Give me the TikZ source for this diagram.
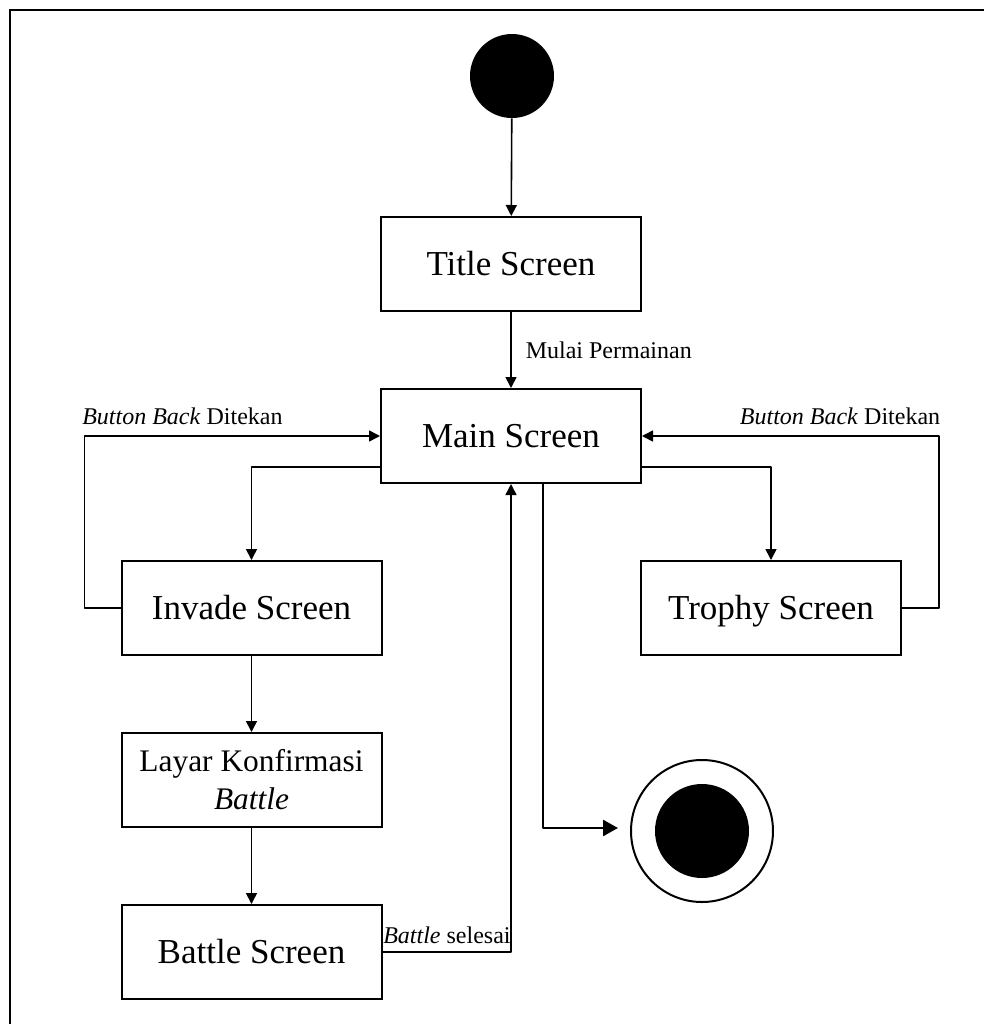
\documentclass[tikz,border=0pt]{standalone}
\usepackage{fontspec}
\setmainfont{Liberation Serif}
\usetikzlibrary{arrows.meta}
\usetikzlibrary{positioning}
\tikzstyle{state}=[draw,line width=1pt,minimum width=130pt,minimum height=47pt,
  align=center,text height=11.6pt,text depth=0pt,font=\fontsize{17.5}{21}\selectfont]
\tikzstyle{trans}=[line width=0.8pt,line join=round,-{Triangle[length=5.5pt,width=5.5pt]}]
\tikzstyle{lbl}=[font=\fontsize{12}{14}\selectfont,inner sep=0pt]

\begin{document}
\begin{tikzpicture}[x=0.5pt,y=-0.5pt]
  \useasboundingbox (0,0) rectangle (984,1024);
  \draw[line width=1pt] (9.5,1024)--(9.5,9.5)--(984,9.5);
  % states
  \node[circle,fill,minimum size=42pt,inner sep=0pt] (start) at (512,76) {};
  \node[state] (title) at (511,264) {Title Screen};
  \node[state] (main) at (511,436) {Main Screen};
  \node[state] (invade) at (251.5,608) {Invade Screen};
  \node[state] (trophy) at (771,608) {Trophy Screen};
  \node[state,text height=,text depth=,font=\fontsize{15.7}{19}\selectfont] (konfirm) at (251.5,780)
       {Layar Konfirmasi\\\textit{Battle}};
  \node[state] (battle) at (251.5,952) {Battle Screen};
  \node[circle,draw,line width=1pt,minimum size=71pt,inner sep=0pt] (stop) at (702,831) {};
  \node[circle,fill,minimum size=47pt,inner sep=0pt] (stopdot) at (stop) {};
  % transitions
  \draw[trans] (start)--(title);
  \draw[trans] (title)--(main) node[lbl,pos=0.5,anchor=west,xshift=7pt] {Mulai Permainan};
  \draw[trans] ([yshift=-15.5pt]main.west) -| (invade.north);
  \draw[trans] ([yshift=-15.5pt]main.east) -| (trophy.north);
  \draw[trans] (invade.west)--++(-18pt,0) |- (main.west)
       node[lbl,pos=0.5,anchor=base west,xshift=-1.5pt,yshift=6pt] {\textit{Button Back} Ditekan};
  \draw[trans] (trophy.east)--++(18.5pt,0) |- (main.east)
       node[lbl,pos=0.5,anchor=base east,xshift=1pt,yshift=6pt] {\textit{Button Back} Ditekan};
  \draw[trans] (invade)--(konfirm);
  \draw[trans] (konfirm)--(battle);
  \draw[trans] (battle.east) -| (main.south)
       node[lbl,pos=0,anchor=base west,xshift=0pt,yshift=4.5pt] {\textit{Battle} selesai};
  \draw[line width=1.3pt,line join=round,-{Triangle[length=7.5pt,width=8pt]},shorten >=6pt]
       ([xshift=16pt]main.south) |- ([yshift=1.5pt]stop.west);
\end{tikzpicture}
\end{document}
